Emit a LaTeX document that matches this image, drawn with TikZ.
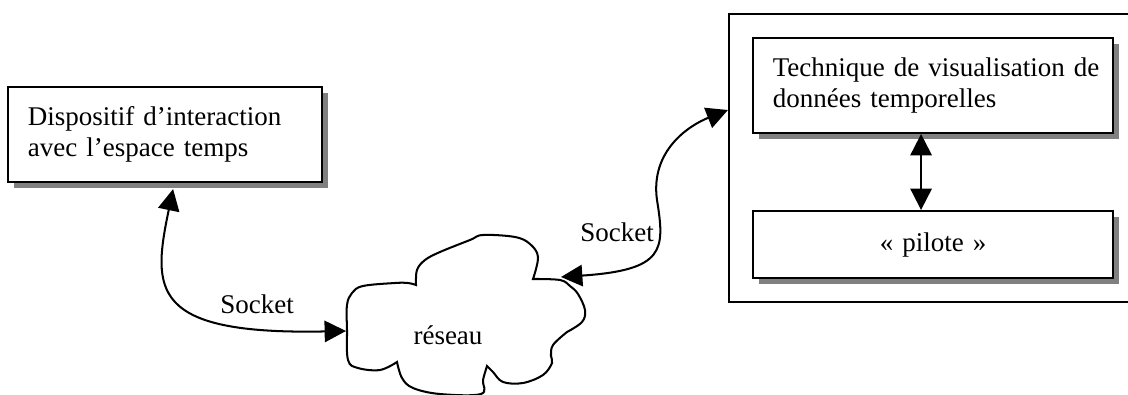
\documentclass[tikz,border=0pt]{standalone}
\usepackage{fontspec}
\setmainfont{Liberation Serif}
\usetikzlibrary{arrows.meta,shadows,positioning}

\begin{document}
\begin{tikzpicture}[x=0.4444pt, y=-0.4444pt,
  font=\fontsize{12pt}{13.8pt}\selectfont,
  box/.style={draw, line width=0.9pt, fill=white, inner xsep=8.8pt,
    drop shadow={shadow xshift=2.6pt, shadow yshift=-2.6pt, fill=black!50, opacity=1}},
  link/.style={line width=0.9pt, {Triangle[width=9.5pt,length=9.5pt]}-{Triangle[width=9.5pt,length=9.5pt]}},
  comment/.style={rectangle, text centered, inner sep=0pt}]
\useasboundingbox (0,0) rectangle (1128,394);

\node [box, minimum width=139.5pt, minimum height=42.2pt, text width=121.9pt, align=left]
  (disp) at (165,134.5) {Dispositif d'interaction\\avec l'espace temps};

\node [draw, line width=0.9pt, minimum width=180.9pt, minimum height=128pt]
  (sys) at (932.5,158) {};
\node [box, minimum width=160pt, minimum height=42.2pt, text width=142.4pt, align=left]
  (tech) at (933,85.5) {\mbox{Technique de visualisation de}\\donn\'ees temporelles};
\node [box, minimum width=160pt, minimum height=29.8pt, text width=142.4pt, align=center]
  (pilote) at (933,244.5) {«~pilote~»};

\draw [link] ([xshift=-5.3pt]tech.south) -- ([xshift=-5.3pt]pilote.north);

% reseau
\draw [line width=0.9pt]
  plot[smooth, tension=0.6] coordinates {(416,285) (417,270) (425,260) (440,252) (470,240) (483,235) (515,237) (530,244) (538,257) (533,279)}
  -- plot[smooth, tension=0.6] coordinates {(533,279) (560,280) (570,286) (578,294) (585,310) (582,322) (567,332)}
  -- plot[smooth, tension=0.6] coordinates {(567,332) (553,345) (551,356) (552,363) (543,375) (523,383) (503,382) (493,372) (487,366)}
  -- plot[smooth, tension=0.6] coordinates {(487,366) (483,380) (481,394) (440,394) (413,388) (402,378) (397,362)}
  -- plot[smooth, tension=0.6] coordinates {(397,362) (380,370) (358,368) (348,360) (347,330) (347,305) (352,293) (363,286) (395,283) (408,283) (416,285)}
  -- cycle;
\node [comment] (reseau) at (448,335) {r\'eseau};
\coordinate (cloudW) at (346,331);
\coordinate (cloudE) at (561,277);
\coordinate (sysin) at (sys.west |- 0,110);

\draw [link] ([xshift=3.6pt,yshift=-2.7pt]disp.south) .. controls (152,290) and (150,335) .. (cloudW);
\draw [link] (cloudE) .. controls (665,270) and (665,250) .. (657,200)
  .. controls (650,150) and (690,125) .. (sysin);

\node [comment] (sockL) at (257,304) {Socket};
\node [comment] (sockR) at (617,232) {Socket};
\end{tikzpicture}
\end{document}
